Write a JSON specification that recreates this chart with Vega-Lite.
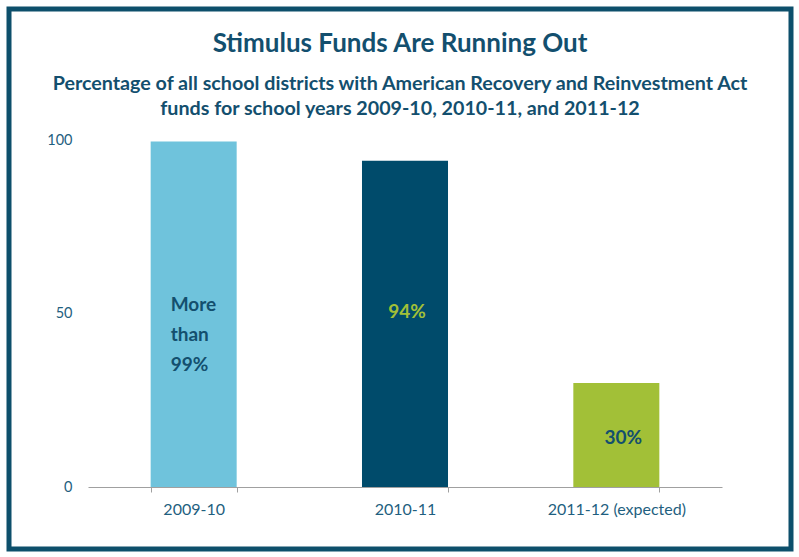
{
  "$schema": "https://vega.github.io/schema/vega-lite/v6.json",
  "autosize": {"type": "none"},
  "padding": 9,
  "width": 782,
  "height": 540,
  "background": "white",
  "config": {
    "view": {"stroke": "#0d4f6b", "strokeWidth": 5},
    "font": "Lato"
  },
  "title": {
    "text": "Stimulus Funds Are Running Out",
    "subtitle": ["Percentage of all school districts with American Recovery and Reinvestment Act", "funds for school years 2009-10, 2010-11, and 2011-12"],
    "anchor": "middle",
    "orient": "top",
    "offset": -110,
    "font": "Lato",
    "fontSize": 26,
    "fontWeight": "bold",
    "color": "#134f6e",
    "subtitleFont": "Lato",
    "subtitleFontSize": 19.7,
    "subtitleFontWeight": "bold",
    "subtitleColor": "#134f6e",
    "subtitlePadding": 17,
    "subtitleLineHeight": 25
  },
  "data": {
    "values": [
      {"year": "2009-10", "value": 99.6, "label": ["More", "than", "99%"]},
      {"year": "2010-11", "value": 94, "label": "94%"},
      {"year": "2011-12 (expected)", "value": 30, "label": "30%"}
    ]
  },
  "transform": [{"calculate": "datum.value / 2", "as": "mid"}],
  "encoding": {
    "x": {
      "field": "year",
      "type": "nominal",
      "sort": null,
      "scale": {"range": [79, 713], "paddingInner": 0.593, "paddingOuter": 0.2965},
      "axis": {
        "title": null,
        "labelAngle": 0,
        "offset": -62,
        "domainColor": "#a0a0a0",
        "tickColor": "#a0a0a0",
        "tickBand": "extent",
        "tickSize": 5,
        "labelPadding": 9,
        "labelFont": "Lato",
        "labelFontSize": 16,
        "labelColor": "#1f5f80"
      }
    }
  },
  "layer": [
    {
      "mark": {"type": "bar"},
      "encoding": {
        "y": {
          "field": "value",
          "type": "quantitative",
          "scale": {"domain": [0, 100], "range": [478, 131], "nice": false},
          "axis": {
            "title": null,
            "values": [0, 50, 100],
            "grid": false,
            "domain": false,
            "ticks": false,
            "labelPadding": 0,
            "offset": -63,
            "labelFont": "Lato",
            "labelFontSize": 14.5,
            "labelColor": "#1f5f80"
          }
        },
        "color": {
          "field": "year",
          "type": "nominal",
          "sort": null,
          "scale": {"range": ["#6fc3dc", "#004b6b", "#a2c037"]},
          "legend": null
        }
      }
    },
    {
      "transform": [{"filter": "datum.year === '2009-10'"}],
      "mark": {"type": "text", "align": "left", "dx": -23, "dy": -9, "baseline": "middle", "fontWeight": "bold", "fontSize": 19, "lineHeight": 30, "color": "#134f6e"},
      "encoding": {
        "y": {"field": "mid", "type": "quantitative"},
        "text": {"field": "label"}
      }
    },
    {
      "transform": [{"filter": "datum.year === '2010-11'"}],
      "mark": {"type": "text", "align": "center", "dx": 2, "dy": -12, "baseline": "middle", "fontWeight": "bold", "fontSize": 19, "color": "#a2c037"},
      "encoding": {
        "y": {"field": "mid", "type": "quantitative"},
        "text": {"field": "label"}
      }
    },
    {
      "transform": [{"filter": "datum.year === '2011-12 (expected)'"}],
      "mark": {"type": "text", "align": "center", "dx": 7, "dy": 3, "baseline": "middle", "fontWeight": "bold", "fontSize": 19, "color": "#134f6e"},
      "encoding": {
        "y": {"field": "mid", "type": "quantitative"},
        "text": {"field": "label"}
      }
    }
  ]
}
